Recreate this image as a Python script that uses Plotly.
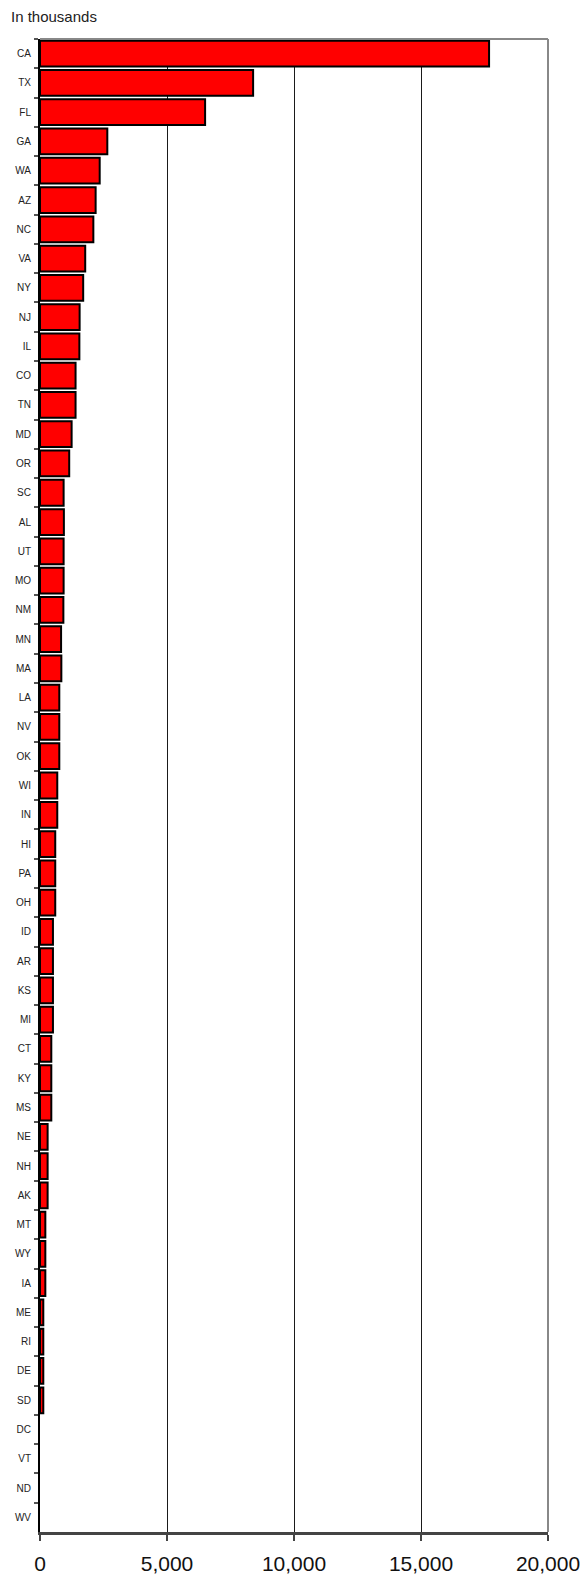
import plotly.graph_objects as go

states = ["CA", "TX", "FL", "GA", "WA", "AZ", "NC", "VA", "NY", "NJ", "IL", "CO", "TN",
          "MD", "OR", "SC", "AL", "UT", "MO", "NM", "MN", "MA", "LA", "NV", "OK", "WI",
          "IN", "HI", "PA", "OH", "ID", "AR", "KS", "MI", "CT", "KY", "MS", "NE", "NH",
          "AK", "MT", "WY", "IA", "ME", "RI", "DE", "SD", "DC", "VT", "ND", "WV"]
values = [17680, 8390, 6500, 2650, 2350, 2190, 2100, 1780, 1700, 1560, 1550, 1400, 1400,
          1245, 1150, 930, 940, 930, 930, 920, 830, 840, 760, 760, 760, 680,
          680, 600, 600, 600, 510, 510, 510, 510, 445, 445, 445, 300, 300,
          300, 210, 210, 210, 130, 130, 130, 130, 0, 0, 0, 0]
x_ticks = [0, 5000, 10000, 15000, 20000]
x_tick_labels = ["0", "5,000", "10,000", "15,000", "20,000"]

# no outline for empty bars
line_widths = [2 if v > 0 else 0 for v in values]

fig = go.Figure(go.Bar(
    x=values, y=states, orientation="h",
    marker=dict(color="#FF0000", line=dict(color="#000000", width=line_widths)),
    hoverinfo="x+y",
))

W, H = 585, 1576
L, R, T, B = 40, 37, 39, 44
PW = W - L - R

fig.update_layout(
    width=W, height=H,
    margin=dict(l=L, r=R, t=T, b=B, pad=0, autoexpand=False),
    paper_bgcolor="white", plot_bgcolor="white",
    bargap=0.12,
    showlegend=False,
    font=dict(family="Liberation Sans, Arial, sans-serif", color="#222222"),
    annotations=[
        dict(text="In thousands", xref="paper", yref="paper",
             x=(9 - L) / PW, xanchor="left",
             y=1 + (T - 17) / (H - T - B), yanchor="middle",
             showarrow=False, font=dict(size=15, color="#222222")),
    ],
    xaxis=dict(
        range=[0, 20000], tickvals=x_ticks, ticktext=x_tick_labels,
        showgrid=True, gridcolor="#1a1a1a", gridwidth=1,
        showline=True, linecolor="#444444", linewidth=2.5,
        ticks="outside", ticklen=6, tickcolor="#444444", tickwidth=1.5,
        ticklabelstandoff=5,
        tickfont=dict(size=21, color="#111111", family="Liberation Sans, Arial, sans-serif"),
        zeroline=False, fixedrange=True, automargin=False,
    ),
    yaxis=dict(
        categoryorder="array", categoryarray=states, autorange="reversed",
        showline=True, linecolor="#000000", linewidth=2,
        ticks="outside", ticklen=4, tickcolor="#555555", tickwidth=1.5,
        tickson="boundaries", showgrid=False, zeroline=False,
        ticklabelstandoff=5,
        tickfont=dict(size=10, color="#222222", family="Liberation Sans, Arial, sans-serif"),
        fixedrange=True, automargin=False,
    ),
    shapes=[
        dict(type="line", xref="paper", yref="paper", x0=0, x1=1, y0=1, y1=1,
             line=dict(color="#888888", width=2)),
        dict(type="line", xref="paper", yref="paper", x0=1, x1=1, y0=0, y1=1,
             line=dict(color="#888888", width=2)),
    ],
)

fig.write_html(
    "out.html",
    config={"displayModeBar": False},
    post_script="document.body.style.margin='0';document.body.style.overflow='hidden';",
)
